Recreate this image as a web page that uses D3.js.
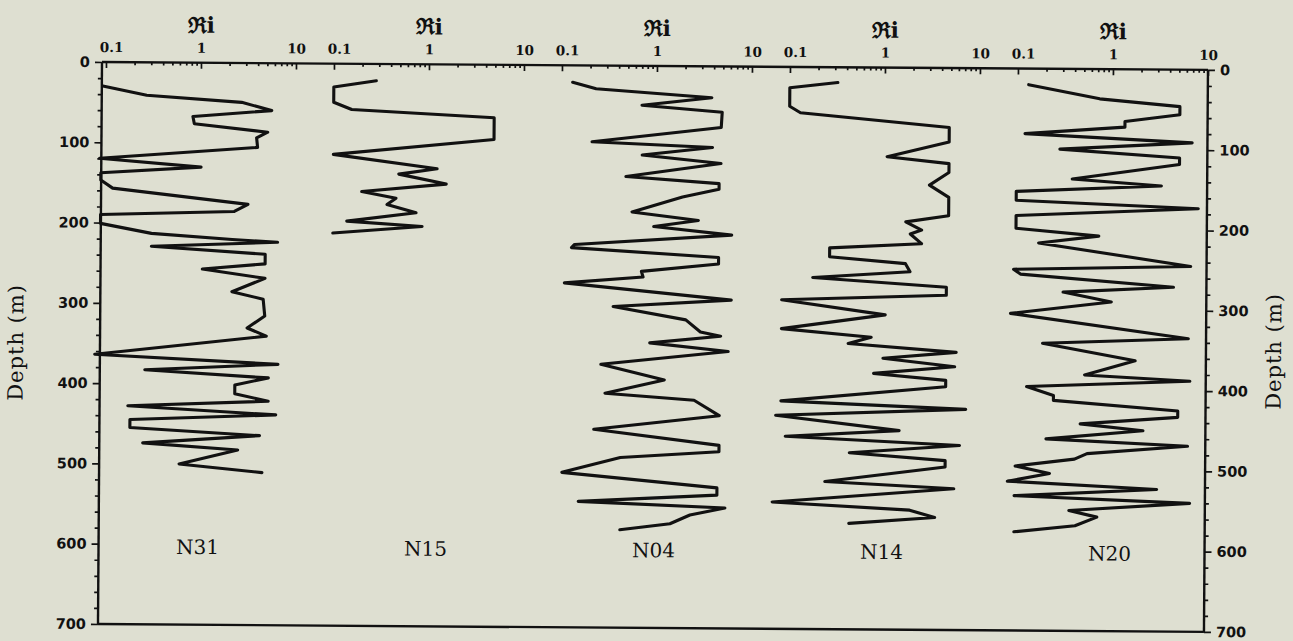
<!DOCTYPE html>
<html><head><meta charset="utf-8">
<script src="https://cdn.jsdelivr.net/npm/d3@7"></script>
<style>
html,body{margin:0;padding:0;background:#dedfd1;}
svg{display:block;}
</style>
</head><body>
<svg id="c" width="1293" height="641"></svg>
<script>
// ---------- data ----------
const stations = ["N31", "N15", "N04", "N14", "N20"];

const depthN31 = [30,41,49,59,67,76,86,93,105,120,130,138,147,157,176,185,190,201,213,220,223,229,238,250,257,268,285,294,315,330,340,364,375,383,392,401,412,421,428,438,445,455,464,474,482,500,510];
const riN31    = [0.093,0.27,2.7,5.6,0.83,0.86,5.1,3.9,4.0,0.087,1.02,0.09,0.09,0.12,3.2,2.3,0.09,0.09,0.31,2.2,6.6,0.31,4.9,4.9,1.07,4.9,2.2,4.7,4.9,3.2,5.1,0.08,6.8,0.27,5.4,2.4,2.4,5.4,0.18,6.5,0.19,0.19,4.4,0.26,2.6,0.63,4.7];

const depthN15 = [21,29,48,57,66,93,113,130,137,149,159,167,175,185,196,202,211];
const riN15    = [0.28,0.1,0.1,0.155,4.9,4.9,0.1,1.24,0.49,1.55,0.2,0.46,0.37,0.75,0.14,0.87,0.1];

const depthN04 = [21,29,39,49,57,76,95,101,111,121,138,146,153,163,182,192,200,210,223,227,238,246,256,263,271,291,300,316,331,336,345,355,372,391,408,416,435,453,472,480,488,507,525,534,543,550,559,570,578];
const riN04    = [0.13,0.23,3.8,0.7,4.9,4.8,0.21,3.9,0.71,4.8,0.48,4.6,4.6,1.9,0.56,2.8,0.95,6.3,0.14,0.13,4.6,4.6,0.71,0.74,0.11,6.3,0.36,2.1,3.0,4.9,0.88,5.9,0.27,1.26,0.3,2.6,4.8,0.23,4.8,4.8,0.44,0.107,4.6,4.6,0.16,5.6,2.4,1.48,0.44];

const depthN14 = [19,26,49,57,74,92,111,119,130,146,161,184,192,202,207,219,225,236,244,254,262,273,283,290,308,326,336,344,354,362,372,381,389,397,416,425,434,452,460,470,480,489,497,516,524,542,551,560,568];
const riN14    = [0.32,0.1,0.1,0.13,4.8,4.8,1.07,4.8,4.8,3.0,4.8,4.8,1.7,2.5,1.9,2.5,0.27,0.27,1.7,1.9,0.18,4.6,4.6,0.085,1.05,0.085,0.75,0.43,5.9,1.0,5.7,0.8,4.6,4.6,0.085,7.5,0.075,1.5,0.095,6.5,0.45,4.6,4.6,0.25,5.7,0.07,1.96,3.6,0.45];

const depthN20 = [20,37,46,56,65,72,81,91,100,110,118,137,145,153,164,173,183,199,208,217,245,250,256,271,278,290,305,335,342,363,381,388,396,407,413,425,433,442,450,461,469,479,486,495,504,514,523,532,540,550,558,569,577];
const riN20    = [0.13,0.73,5.1,5.1,1.35,1.35,0.12,6.9,0.28,5.1,5.1,0.38,3.3,0.098,0.098,8.1,0.098,0.098,0.73,0.17,6.8,0.093,0.11,4.5,0.31,1.0,0.087,6.5,0.19,1.8,0.53,6.8,0.13,0.25,0.25,5.1,5.1,0.48,2.2,0.21,6.5,0.57,0.42,0.1,0.23,0.083,3.1,0.098,6.9,0.37,0.73,0.43,0.098];

const riTicks      = [0.1, 1, 10];
const riMinorTicks = [0.2,0.3,0.4,0.5,0.6,0.7,0.8,0.9,2,3,4,5,6,7,8,9];
const depthTicks      = [0,100,200,300,400,500,600,700];
const depthMinorTicks = [20,40,60,80,120,140,160,180,220,240,260,280,320,340,360,380,420,440,460,480,520,540,560,580,620,640,660,680];
const riTitle = "\u211Ci";
const depthTitle = "Depth (m)";

const depthSeries = [depthN31, depthN15, depthN04, depthN14, depthN20];
const riSeries    = [riN31, riN15, riN04, riN14, riN20];

// ---------- layout ----------
const ink = "#111111";
const plotLeft = 102, plotRight = 1208, plotTop = 62, plotBottom = 624;
const panelStart = 106, panelWidth = 190, panelStep = 228;

const svg = d3.select("#c");
const g = svg.append("g").attr("transform", "rotate(0.41 102 62)");

const y = d3.scaleLinear().domain([0, 700]).range([plotTop, plotBottom]);

// frame lines
g.append("line").attr("x1", plotLeft).attr("x2", plotRight).attr("y1", plotTop).attr("y2", plotTop)
  .attr("stroke", ink).attr("stroke-width", 2.4);
g.append("line").attr("x1", plotLeft).attr("x2", plotRight).attr("y1", plotBottom).attr("y2", plotBottom)
  .attr("stroke", ink).attr("stroke-width", 2.4);

function styleAxis(sel, fontFamily, fontSize, weight) {
  sel.select(".domain").remove();
  sel.selectAll("line").attr("stroke", ink).attr("stroke-width", 1.7);
  sel.selectAll("text").attr("fill", ink).attr("font-family", fontFamily)
    .attr("font-size", fontSize).attr("font-weight", weight);
}

// left and right depth axes
const leftAxis = g.append("g").attr("transform", `translate(${plotLeft},0)`)
  .call(d3.axisLeft(y).tickValues(depthTicks).tickSize(7).tickPadding(5));
styleAxis(leftAxis, "DejaVu Sans", 14.5, "bold");
const leftMinor = g.append("g").attr("transform", `translate(${plotLeft},0)`)
  .call(d3.axisLeft(y).tickValues(depthMinorTicks).tickSize(4).tickFormat(""));
styleAxis(leftMinor, "DejaVu Sans", 14, "bold");
g.append("line").attr("x1", plotLeft).attr("x2", plotLeft).attr("y1", plotTop).attr("y2", plotBottom)
  .attr("stroke", ink).attr("stroke-width", 2.4);

const rightAxis = g.append("g").attr("transform", `translate(${plotRight},0)`)
  .call(d3.axisRight(y).tickValues(depthTicks).tickSize(7).tickPadding(5));
styleAxis(rightAxis, "DejaVu Sans", 14.5, "bold");
const rightMinor = g.append("g").attr("transform", `translate(${plotRight},0)`)
  .call(d3.axisRight(y).tickValues(depthMinorTicks).tickSize(4).tickFormat(""));
styleAxis(rightMinor, "DejaVu Sans", 14, "bold");
g.append("line").attr("x1", plotRight).attr("x2", plotRight).attr("y1", plotTop).attr("y2", plotBottom)
  .attr("stroke", ink).attr("stroke-width", 2.4);

// axis titles
g.append("text").attr("transform", `translate(25,343) rotate(-90)`)
  .attr("text-anchor", "middle").attr("font-family", "DejaVu Serif").attr("font-size", 21)
  .attr("letter-spacing", 1).attr("fill", ink).text(depthTitle);
g.append("text").attr("transform", `translate(1283,343) rotate(-90)`)
  .attr("text-anchor", "middle").attr("font-family", "DejaVu Serif").attr("font-size", 21)
  .attr("letter-spacing", 1).attr("fill", ink).text(depthTitle);

// panels
const line = d3.line().curve(d3.curveLinear);

stations.forEach((name, i) => {
  const x = d3.scaleLog().domain([0.1, 10])
    .range([panelStart + i * panelStep, panelStart + i * panelStep + panelWidth]);

  const ax = g.append("g").attr("transform", `translate(0,${plotTop})`)
    .call(d3.axisTop(x).tickValues(riTicks).tickSize(-6).tickPadding(10).tickFormat(d => String(d)));
  styleAxis(ax, "DejaVu Serif", 13.5, "bold");
  ax.selectAll("text").attr("dx", d => d === 0.1 ? 5 : 0);

  const axm = g.append("g").attr("transform", `translate(0,${plotTop})`)
    .call(d3.axisTop(x).tickValues(riMinorTicks).tickSize(-3).tickFormat(""));
  styleAxis(axm, "DejaVu Serif", 12, "bold");

  g.append("text").attr("x", x(1)).attr("y", 32).attr("text-anchor", "middle")
    .attr("font-family", "DejaVu Serif").attr("font-weight", "bold").attr("font-size", 22)
    .attr("fill", ink).text(riTitle);

  const pts = depthSeries[i].map((d, k) => [x(riSeries[i][k]), y(d)]);
  g.append("path").attr("d", line(pts)).attr("fill", "none")
    .attr("stroke", ink).attr("stroke-width", 3.1)
    .attr("stroke-linejoin", "round").attr("stroke-linecap", "round");

  g.append("text").attr("x", x(1)).attr("y", y(612)).attr("text-anchor", "middle")
    .attr("font-family", "DejaVu Serif").attr("font-size", 20)
    .attr("fill", ink).text(name);
});
</script>
</body></html>
